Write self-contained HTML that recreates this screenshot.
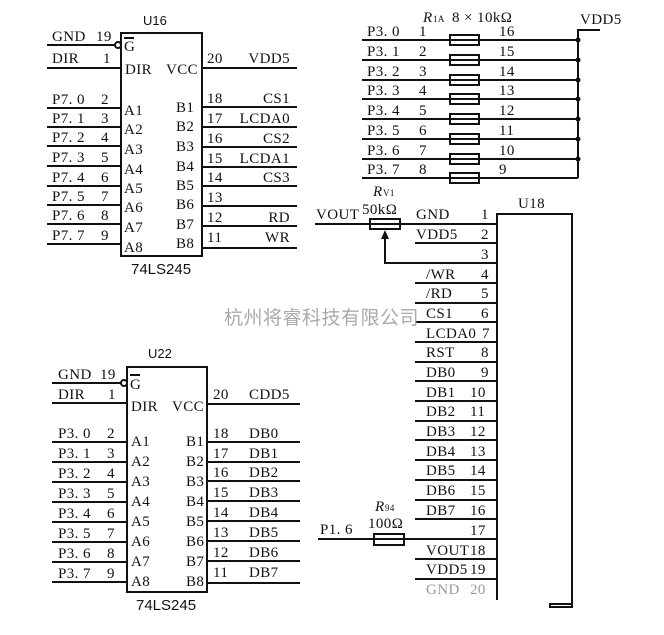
<!DOCTYPE html>
<html><head><meta charset="utf-8"><style>
html,body{margin:0;padding:0;background:#fff}
svg{display:block}
text{font-family:"Liberation Serif",serif;fill:#111;letter-spacing:0.4px}
.s{font-family:"Liberation Sans",sans-serif;letter-spacing:0}
line,polyline,rect{stroke:#111;stroke-width:2;fill:none}
.e{text-anchor:end}
</style></head><body>
<svg width="664" height="635" viewBox="0 0 664 635" xmlns="http://www.w3.org/2000/svg" font-size="15">
<!-- U16 -->
<text x="143" y="25" class="s" font-size="13">U16</text>
<rect x="121" y="33" width="81" height="223"/>
<circle cx="118" cy="45" r="3" fill="#fff" stroke="#111" stroke-width="2"/>
<line x1="47" y1="45" x2="115" y2="45"/><line x1="47" y1="68" x2="121" y2="68"/>
<text x="52" y="41">GND</text><text x="96" y="41">19</text>
<text x="52" y="63">DIR</text><text x="103" y="63">1</text>
<text x="124" y="51">G</text><line x1="124" y1="38" x2="134" y2="38" stroke-width="1"/>
<text x="125" y="74">DIR</text><text x="166" y="74">VCC</text>
<line x1="202" y1="68" x2="297" y2="68"/><text x="207" y="63">20</text><text x="290" y="63" class="e">VDD5</text>
<g>
<line x1="47" y1="108" x2="121" y2="108"/><line x1="47" y1="127" x2="121" y2="127"/><line x1="47" y1="146" x2="121" y2="146"/><line x1="47" y1="166" x2="121" y2="166"/><line x1="47" y1="186" x2="121" y2="186"/><line x1="47" y1="205" x2="121" y2="205"/><line x1="47" y1="224" x2="121" y2="224"/><line x1="47" y1="244" x2="121" y2="244"/>
<text x="52" y="104">P7. 0</text><text x="101" y="104">2</text>
<text x="52" y="123">P7. 1</text><text x="101" y="123">3</text>
<text x="52" y="142">P7. 2</text><text x="101" y="142">4</text>
<text x="52" y="162">P7. 3</text><text x="101" y="162">5</text>
<text x="52" y="182">P7. 4</text><text x="101" y="182">6</text>
<text x="52" y="201">P7. 5</text><text x="101" y="201">7</text>
<text x="52" y="220">P7. 6</text><text x="101" y="220">8</text>
<text x="52" y="240">P7. 7</text><text x="101" y="240">9</text>
<text x="124" y="115">A1</text><text x="124" y="134">A2</text><text x="124" y="154">A3</text><text x="124" y="174">A4</text><text x="124" y="193">A5</text><text x="124" y="212">A6</text><text x="124" y="232">A7</text><text x="124" y="252">A8</text>
<text x="176" y="112">B1</text><text x="176" y="131">B2</text><text x="176" y="151">B3</text><text x="176" y="171">B4</text><text x="176" y="190">B5</text><text x="176" y="209">B6</text><text x="176" y="229">B7</text><text x="176" y="248">B8</text>
<line x1="202" y1="107" x2="297" y2="107"/><line x1="202" y1="127" x2="297" y2="127"/><line x1="202" y1="147" x2="297" y2="147"/><line x1="202" y1="167" x2="297" y2="167"/><line x1="202" y1="186" x2="297" y2="186"/><line x1="202" y1="206" x2="297" y2="206"/><line x1="202" y1="226" x2="297" y2="226"/><line x1="202" y1="248" x2="297" y2="248"/>
<text x="207" y="103">18</text><text x="290" y="103" class="e">CS1</text>
<text x="207" y="123">17</text><text x="290" y="123" class="e">LCDA0</text>
<text x="207" y="143">16</text><text x="290" y="143" class="e">CS2</text>
<text x="207" y="163">15</text><text x="290" y="163" class="e">LCDA1</text>
<text x="207" y="182">14</text><text x="290" y="182" class="e">CS3</text>
<text x="207" y="202">13</text>
<text x="207" y="222">12</text><text x="290" y="222" class="e">RD</text>
<text x="207" y="242">11</text><text x="290" y="242" class="e">WR</text>
</g>
<text x="131" y="274" class="s" font-size="15">74LS245</text>

<!-- U22 -->
<text x="148" y="358" class="s" font-size="13">U22</text>
<rect x="127" y="367" width="80" height="225"/>
<circle cx="124" cy="383" r="3" fill="#fff" stroke="#111" stroke-width="2"/>
<line x1="52" y1="383" x2="121" y2="383"/><line x1="52" y1="403" x2="127" y2="403"/>
<text x="58" y="379">GND</text><text x="100" y="379">19</text>
<text x="58" y="399">DIR</text><text x="108" y="399">1</text>
<text x="130" y="389">G</text><line x1="130" y1="375" x2="140" y2="375" stroke-width="1"/>
<text x="131" y="411">DIR</text><text x="172" y="411">VCC</text>
<line x1="207" y1="404" x2="300" y2="404"/><text x="213" y="399">20</text><text x="249" y="399">CDD5</text>
<line x1="52" y1="442" x2="127" y2="442"/><line x1="52" y1="462" x2="127" y2="462"/><line x1="52" y1="482" x2="127" y2="482"/><line x1="52" y1="502" x2="127" y2="502"/><line x1="52" y1="522" x2="127" y2="522"/><line x1="52" y1="542" x2="127" y2="542"/><line x1="52" y1="562" x2="127" y2="562"/><line x1="52" y1="582" x2="127" y2="582"/>
<text x="58" y="438">P3. 0</text><text x="107" y="438">2</text>
<text x="58" y="458">P3. 1</text><text x="107" y="458">3</text>
<text x="58" y="478">P3. 2</text><text x="107" y="478">4</text>
<text x="58" y="498">P3. 3</text><text x="107" y="498">5</text>
<text x="58" y="518">P3. 4</text><text x="107" y="518">6</text>
<text x="58" y="538">P3. 5</text><text x="107" y="538">7</text>
<text x="58" y="558">P3. 6</text><text x="107" y="558">8</text>
<text x="58" y="578">P3. 7</text><text x="107" y="578">9</text>
<text x="131" y="446">A1</text><text x="131" y="466">A2</text><text x="131" y="486">A3</text><text x="131" y="506">A4</text><text x="131" y="526">A5</text><text x="131" y="546">A6</text><text x="131" y="566">A7</text><text x="131" y="586">A8</text>
<text x="186" y="446">B1</text><text x="186" y="466">B2</text><text x="186" y="486">B3</text><text x="186" y="506">B4</text><text x="186" y="526">B5</text><text x="186" y="546">B6</text><text x="186" y="566">B7</text><text x="186" y="586">B8</text>
<line x1="207" y1="442" x2="300" y2="442"/><line x1="207" y1="462" x2="300" y2="462"/><line x1="207" y1="481" x2="300" y2="481"/><line x1="207" y1="501" x2="300" y2="501"/><line x1="207" y1="521" x2="300" y2="521"/><line x1="207" y1="541" x2="300" y2="541"/><line x1="207" y1="561" x2="300" y2="561"/><line x1="207" y1="583" x2="300" y2="583"/>
<text x="213" y="438">18</text><text x="249" y="438">DB0</text>
<text x="213" y="458">17</text><text x="249" y="458">DB1</text>
<text x="213" y="477">16</text><text x="249" y="477">DB2</text>
<text x="213" y="497">15</text><text x="249" y="497">DB3</text>
<text x="213" y="517">14</text><text x="249" y="517">DB4</text>
<text x="213" y="537">13</text><text x="249" y="537">DB5</text>
<text x="213" y="557">12</text><text x="249" y="557">DB6</text>
<text x="213" y="577">11</text><text x="249" y="577">DB7</text>
<text x="136" y="610" class="s" font-size="15">74LS245</text>

<!-- resistor network -->
<text x="423" y="22" font-style="italic">R</text><text x="433" y="22" font-size="9">1A</text><text x="452" y="22">8 × 10kΩ</text>
<polyline points="578,178 578,30 600,30"/><text x="580" y="24">VDD5</text>
<g>
<line x1="362" y1="40" x2="578" y2="40"/><line x1="362" y1="60" x2="578" y2="60"/><line x1="362" y1="80" x2="578" y2="80"/><line x1="362" y1="99" x2="578" y2="99"/><line x1="362" y1="119" x2="578" y2="119"/><line x1="362" y1="139" x2="578" y2="139"/><line x1="362" y1="159" x2="578" y2="159"/><line x1="362" y1="178" x2="578" y2="178"/>
<rect x="450" y="35" width="29" height="10" fill="#fff"/><rect x="450" y="55" width="29" height="10" fill="#fff"/><rect x="450" y="75" width="29" height="10" fill="#fff"/><rect x="450" y="94" width="29" height="10" fill="#fff"/><rect x="450" y="114" width="29" height="10" fill="#fff"/><rect x="450" y="134" width="29" height="10" fill="#fff"/><rect x="450" y="154" width="29" height="10" fill="#fff"/><rect x="450" y="173" width="29" height="10" fill="#fff"/>
<circle cx="578" cy="40" r="2.5" fill="#111" stroke="none"/><circle cx="578" cy="60" r="2.5" fill="#111" stroke="none"/><circle cx="578" cy="80" r="2.5" fill="#111" stroke="none"/><circle cx="578" cy="99" r="2.5" fill="#111" stroke="none"/><circle cx="578" cy="119" r="2.5" fill="#111" stroke="none"/><circle cx="578" cy="139" r="2.5" fill="#111" stroke="none"/><circle cx="578" cy="159" r="2.5" fill="#111" stroke="none"/>
<text x="367" y="36">P3. 0</text><text x="419" y="36">1</text><text x="499" y="36">16</text>
<text x="367" y="56">P3. 1</text><text x="419" y="56">2</text><text x="499" y="56">15</text>
<text x="367" y="76">P3. 2</text><text x="419" y="76">3</text><text x="499" y="76">14</text>
<text x="367" y="95">P3. 3</text><text x="419" y="95">4</text><text x="499" y="95">13</text>
<text x="367" y="115">P3. 4</text><text x="419" y="115">5</text><text x="499" y="115">12</text>
<text x="367" y="135">P3. 5</text><text x="419" y="135">6</text><text x="499" y="135">11</text>
<text x="367" y="155">P3. 6</text><text x="419" y="155">7</text><text x="499" y="155">10</text>
<text x="367" y="174">P3. 7</text><text x="419" y="174">8</text><text x="499" y="174">9</text>
</g>

<!-- U18 -->
<text x="518" y="208">U18</text>
<polyline points="497,600 497,214 572,214 572,605"/>
<line x1="315" y1="224" x2="497" y2="224"/>
<rect x="370" y="219" width="30" height="10" fill="#fff"/>
<text x="373" y="196" font-style="italic">R</text><text x="383" y="196" font-size="9">V1</text><text x="362" y="214">50kΩ</text>
<text x="316" y="219">VOUT</text>
<polyline points="385,233 385,263 497,263"/><polygon points="385,230 381,239 389,239" fill="#111"/>
<g>
<line x1="415" y1="243" x2="497" y2="243"/><line x1="415" y1="283" x2="497" y2="283"/><line x1="415" y1="303" x2="497" y2="303"/><line x1="415" y1="322" x2="497" y2="322"/><line x1="415" y1="342" x2="497" y2="342"/><line x1="415" y1="362" x2="497" y2="362"/><line x1="415" y1="381" x2="497" y2="381"/><line x1="415" y1="401" x2="497" y2="401"/><line x1="415" y1="421" x2="497" y2="421"/><line x1="415" y1="440" x2="497" y2="440"/><line x1="415" y1="460" x2="497" y2="460"/><line x1="415" y1="480" x2="497" y2="480"/><line x1="415" y1="500" x2="497" y2="500"/><line x1="415" y1="519" x2="497" y2="519"/><line x1="318" y1="539" x2="497" y2="539"/><line x1="415" y1="559" x2="497" y2="559"/><line x1="415" y1="579" x2="497" y2="579"/>
<text x="416" y="219">GND</text><text x="481" y="219">1</text>
<text x="416" y="239">VDD5</text><text x="481" y="239">2</text>
<text x="481" y="259">3</text>
<text x="426" y="279">/WR</text><text x="481" y="279">4</text>
<text x="426" y="298">/RD</text><text x="481" y="298">5</text>
<text x="426" y="318">CS1</text><text x="481" y="318">6</text>
<text x="426" y="338" letter-spacing="0">LCDA0</text><text x="482" y="338">7</text>
<text x="426" y="357">RST</text><text x="481" y="357">8</text>
<text x="426" y="377">DB0</text><text x="481" y="377">9</text>
<text x="426" y="397">DB1</text><text x="470" y="397">10</text>
<text x="426" y="416">DB2</text><text x="470" y="416">11</text>
<text x="426" y="436">DB3</text><text x="470" y="436">12</text>
<text x="426" y="456">DB4</text><text x="470" y="456">13</text>
<text x="426" y="475">DB5</text><text x="470" y="475">14</text>
<text x="426" y="495">DB6</text><text x="470" y="495">15</text>
<text x="426" y="515">DB7</text><text x="470" y="515">16</text>
<text x="470" y="535">17</text>
<text x="426" y="555">VOUT</text><text x="470" y="555">18</text>
<text x="426" y="574">VDD5</text><text x="470" y="574">19</text>
<text x="426" y="594" style="fill:#999">GND</text><text x="470" y="594" style="fill:#999">20</text>
</g>
<rect x="374" y="534" width="30" height="11" fill="#fff"/>
<text x="375" y="511" font-style="italic">R</text><text x="385" y="511" font-size="9">94</text><text x="368" y="528">100Ω</text>
<text x="320" y="534">P1. 6</text>
<rect x="550" y="604" width="22" height="3" fill="#111" stroke="none"/>
<text x="224" y="324" font-family="'Noto Sans CJK SC',sans-serif" font-size="19" style="fill:#aaa;font-family:'Noto Sans CJK SC',sans-serif;letter-spacing:0.5px">杭州将睿科技有限公司</text>
</svg>
</body></html>
